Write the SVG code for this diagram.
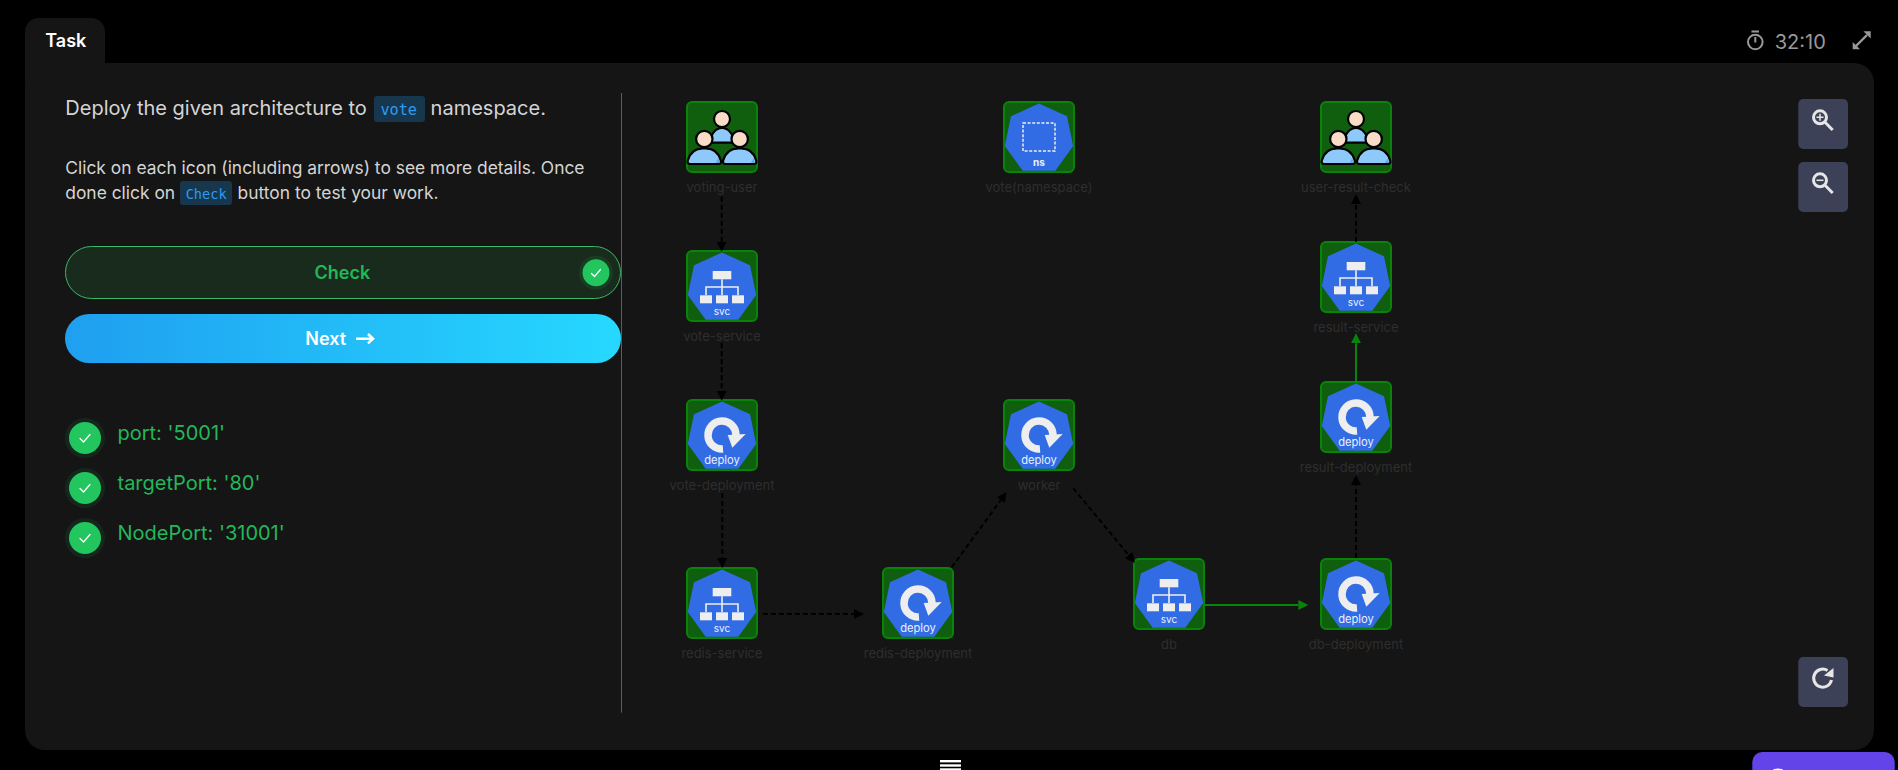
<svg xmlns="http://www.w3.org/2000/svg" width="1898" height="770" viewBox="0 0 1898 770">
<style>
text{font-family:Inter,"Liberation Sans",sans-serif}
.body{font-size:20px;fill:#d4d4d4}
.body2{font-size:17.4px;fill:#d4d4d4}
.code{font-family:"DejaVu Sans Mono","Liberation Mono",monospace;fill:#2f9bef}
.codebg{fill:#17374f}
.ok{font-size:20px;fill:#22b85a}
.lbl{font-size:13px;fill:#2e2e2e;text-anchor:middle}
.box{fill:#0f5f0f;stroke:#0a830a;stroke-width:2}
.hex{fill:#326ce5}
.ico{fill:#eeeeee}
.icol{fill:none;stroke:#eeeeee;stroke-width:1.6}
.cap{font-size:10px;fill:#eaf0ff;text-anchor:middle}
.capd{font-size:11.2px;fill:#eaf0ff;text-anchor:middle}
.head{fill:#f9dcc8;stroke:#000;stroke-width:2.2}
.torso{fill:#8ec9fb;stroke:#000;stroke-width:2.2;stroke-linejoin:round}
.shade{fill:#5ba8e8}
.dash{fill:none;stroke:#000;stroke-width:2;stroke-dasharray:5 3}
.solid{fill:none;stroke:#0a830a;stroke-width:2}
.tool{fill:#3d4158}
.toolic{fill:none;stroke:#e6e6e6;stroke-width:3}
.mute{fill:none;stroke:#999;stroke-width:2}
.tick{fill:none;stroke:#fff;stroke-width:1.3;stroke-linecap:round;stroke-linejoin:round}
</style>
<defs>
<linearGradient id="next" x1="0" x2="1" y1="0" y2="0"><stop offset="0" stop-color="#1f9ff0"/><stop offset="1" stop-color="#26d8ff"/></linearGradient>
<marker id="ab" markerUnits="userSpaceOnUse" markerWidth="12" markerHeight="12" refX="0" refY="6" orient="auto"><path d="M0 1L10 6L0 11Z" fill="#000"/></marker>
<marker id="ag" markerUnits="userSpaceOnUse" markerWidth="12" markerHeight="12" refX="0" refY="6" orient="auto"><path d="M0 1L10 6L0 11Z" fill="#0a830a"/></marker>
<g id="frame"><rect class="box" x="-35" y="-35" width="70" height="70" rx="5"/><path class="hex" d="M0-33.5L28-20.7L34.2 9L16.3 33.7H-16.3L-34.2 9L-28-20.7Z"/></g>
<g id="svc"><use href="#frame"/><rect class="ico" x="-9.3" y="-15" width="18.6" height="8.3"/><path class="icol" d="M0-6.7V9M-16 9V1H16V9"/><rect class="ico" x="-22" y="9.3" width="12" height="8"/><rect class="ico" x="-6" y="9.3" width="12" height="8"/><rect class="ico" x="10" y="9.3" width="12" height="8"/></g>
<g id="dep"><use href="#frame"/><path d="M1 14A14 14 0 1 1 14 0" fill="none" stroke="#eee" stroke-width="7.5"/><path class="ico" d="M5.7 0L23.7-1L10.3 12.7Z"/></g>
<path id="torso" d="M-14 27Q-17.5 27-16.5 23.5C-14 15-8 11.5-1.5 11.5H1.5C8 11.5 14 15 16.5 23.5Q17.5 27 14 27Z"/>
<g id="users"><rect class="box" x="-35" y="-35" width="70" height="70" rx="5"/>
<path class="torso" d="M-11.5 5.7C-12-3-6-9 0-9C6-9 12-3 11.5 5.7Z"/><circle class="head" cx="0" cy="-18" r="8"/>
<use href="#torso" class="torso" x="-17.7"/><path class="shade" d="M-7 25.8H-2.6Q-3 24-4 21.5C-5 24-6 25-7 25.8Z"/><circle class="head" cx="-17.7" cy="2" r="8.2"/>
<use href="#torso" class="torso" x="17.7"/><path class="shade" d="M28.4 25.8H32.8Q32.4 24 31.4 21.5C30.4 24 29.4 25 28.4 25.8Z"/><circle class="head" cx="17.7" cy="2" r="8.2"/></g>
</defs>

<rect width="1898" height="770" fill="#000"/>
<g id="panel">
<rect x="25" y="63" width="1849" height="687" rx="20" fill="#151515"/>
<path d="M25 80V32A14 14 0 0 1 39 18H91A14 14 0 0 1 105 32V80Z" fill="#151515"/>
<text x="45.3" y="47" font-size="18" font-weight="600" fill="#fff">Task</text>
<path d="M621.5 93V712.7" stroke="#5a5a78" stroke-width="1"/>
</g>

<g id="task-text">
<text class="body" x="65.3" y="115">Deploy the given architecture to</text>
<rect class="codebg" x="374" y="96" width="51" height="26" rx="3"/>
<text class="code" x="380.4" y="115" font-size="15.2">vote</text>
<text class="body" x="430.6" y="115">namespace.</text>
<text class="body2" x="65.3" y="173.5">Click on each icon (including arrows) to see more details. Once</text>
<text class="body2" x="65.3" y="198.5">done click on</text>
<rect class="codebg" x="180" y="181" width="52" height="24" rx="3"/>
<text class="code" x="185.7" y="198.5" font-size="13.6">Check</text>
<text class="body2" x="237.6" y="198.5">button to test your work.</text>
</g>

<g id="check-button">
<rect x="65.5" y="246.5" width="555" height="52" rx="26" fill="#192b1c" stroke="#3cb868" stroke-width="1"/>
<text x="342.4" y="279" font-size="18" font-weight="600" fill="#22b85a" text-anchor="middle">Check</text>
<circle cx="596" cy="272.7" r="17" fill="#22c55e" fill-opacity=".12"/>
<circle cx="596" cy="272.7" r="13.5" fill="#22c55e"/>
<path class="tick" d="M591.5 273.5L594.5 276.5L600.5 269.5"/>
</g>

<g id="next-button">
<rect x="65" y="314" width="556" height="49" rx="24.5" fill="url(#next)"/>
<text x="305.3" y="345" font-size="18" font-weight="600" fill="#fff">Next</text>
<path d="M356 338.7H373M368 334L373 338.7L368 343.4" fill="none" stroke="#fff" stroke-width="2.6"/>
</g>

<g id="checklist">
<circle cx="85" cy="438" r="20" fill="#22c55e" fill-opacity=".1"/><circle cx="85" cy="438" r="16" fill="#22c55e"/><path class="tick" d="M80 438.5L83.5 442L90 434.5"/>
<text class="ok" x="117.5" y="440">port: '5001'</text>
<circle cx="85" cy="488" r="20" fill="#22c55e" fill-opacity=".1"/><circle cx="85" cy="488" r="16" fill="#22c55e"/><path class="tick" d="M80 488.5L83.5 492L90 484.5"/>
<text class="ok" x="117.5" y="490">targetPort: '80'</text>
<circle cx="85" cy="538" r="20" fill="#22c55e" fill-opacity=".1"/><circle cx="85" cy="538" r="16" fill="#22c55e"/><path class="tick" d="M80 538.5L83.5 542L90 534.5"/>
<text class="ok" x="117.5" y="540">NodePort: '31001'</text>
</g>

<g id="timer">
<circle class="mute" cx="1755.3" cy="42" r="7.3"/><path class="mute" d="M1751.5 31.5H1759M1755.3 37V42.5"/>
<text x="1774.7" y="48.7" font-size="20" fill="#999">32:10</text>
<path d="M1856 46L1867 35" stroke="#999" stroke-width="2.4"/><path d="M1852.7 49.3V42L1860 49.3ZM1870.7 31.3V38.6L1863.4 31.3Z" fill="#999"/>
</g>

<g id="node-voting-user" transform="translate(722 137)"><use href="#users"/><text class="lbl" y="54.5">voting-user</text></g>
<g id="node-vote-namespace" transform="translate(1039 137)"><use href="#frame"/><rect x="-16" y="-14" width="32" height="28" fill="none" stroke="#eee" stroke-width="1.5" stroke-dasharray="3 1.6"/><text class="cap" y="29" font-weight="700" font-size="11">ns</text><text class="lbl" y="54.5">vote(namespace)</text></g>
<g id="node-user-result-check" transform="translate(1356 137)"><use href="#users"/><text class="lbl" y="54.5">user-result-check</text></g>
<g id="node-vote-service" transform="translate(722 286)"><use href="#svc"/><text class="cap" y="29">svc</text><text class="lbl" y="54.5">vote-service</text></g>
<g id="node-result-service" transform="translate(1356 277)"><use href="#svc"/><text class="cap" y="29">svc</text><text class="lbl" y="54.5">result-service</text></g>
<g id="node-vote-deployment" transform="translate(722 435)"><use href="#dep"/><text class="capd" y="29">deploy</text><text class="lbl" y="54.5">vote-deployment</text></g>
<g id="node-worker" transform="translate(1039 435)"><use href="#dep"/><text class="capd" y="29">deploy</text><text class="lbl" y="54.5">worker</text></g>
<g id="node-result-deployment" transform="translate(1356 417)"><use href="#dep"/><text class="capd" y="29">deploy</text><text class="lbl" y="54.5">result-deployment</text></g>
<g id="node-redis-service" transform="translate(722 603)"><use href="#svc"/><text class="cap" y="29">svc</text><text class="lbl" y="54.5">redis-service</text></g>
<g id="node-redis-deployment" transform="translate(918 603)"><use href="#dep"/><text class="capd" y="29">deploy</text><text class="lbl" y="54.5">redis-deployment</text></g>
<g id="node-db" transform="translate(1169 594)"><use href="#svc"/><text class="cap" y="29">svc</text><text class="lbl" y="54.5">db</text></g>
<g id="node-db-deployment" transform="translate(1356 594)"><use href="#dep"/><text class="capd" y="29">deploy</text><text class="lbl" y="54.5">db-deployment</text></g>

<g id="connectors">
<path class="dash" marker-end="url(#ab)" d="M721.7 196.7V241.7"/>
<path class="dash" marker-end="url(#ab)" d="M721.7 343V390.7"/>
<path class="dash" marker-end="url(#ab)" d="M722.3 493V558"/>
<path class="dash" marker-end="url(#ab)" d="M763 614H854"/>
<path class="dash" marker-end="url(#ab)" d="M951.7 567.3L1000.8 500.1"/>
<path class="dash" marker-end="url(#ab)" d="M1073.3 488.3L1128.6 555"/>
<path class="solid" marker-end="url(#ag)" d="M1205 605H1298.3"/>
<path class="dash" marker-end="url(#ab)" d="M1356 558V485"/>
<path class="solid" marker-end="url(#ag)" d="M1356 381V343.3"/>
<path class="dash" marker-end="url(#ab)" d="M1356 241.7V204"/>
</g>

<g id="tools">
<rect class="tool" x="1798.3" y="99" width="49.7" height="50" rx="5"/>
<circle class="toolic" cx="1820" cy="117.3" r="6.5"/><path class="toolic" d="M1825 122.3L1832.7 130"/><path d="M1816.5 117.3H1823.5M1820 113.8V120.8" stroke="#e6e6e6" stroke-width="1.5"/>
<rect class="tool" x="1798.3" y="162" width="49.7" height="50" rx="5"/>
<circle class="toolic" cx="1820" cy="180.3" r="6.5"/><path class="toolic" d="M1825 185.3L1832.7 193"/><path d="M1816.5 180.3H1823.5" stroke="#e6e6e6" stroke-width="1.5"/>
<rect class="tool" x="1798.3" y="657" width="49.7" height="50" rx="5"/>
<path class="toolic" d="M1831.5 680A9 9 0 1 1 1827.5 670.5"/><path d="M1833.5 668V677.5L1824 675.5Z" fill="#e6e6e6"/>
</g>

<g id="footer">
<rect x="940" y="760" width="21" height="2.4" fill="#fff"/><rect x="940" y="764.3" width="21" height="2.4" fill="#fff"/><rect x="940" y="768.3" width="21" height="1.7" fill="#fff"/>
<rect x="1752.3" y="752" width="142.4" height="40" rx="10" fill="#6344e8"/>
<path d="M1773 770A5 1.6 0 0 1 1783 770Z" fill="#fff"/>
</g>
</svg>
